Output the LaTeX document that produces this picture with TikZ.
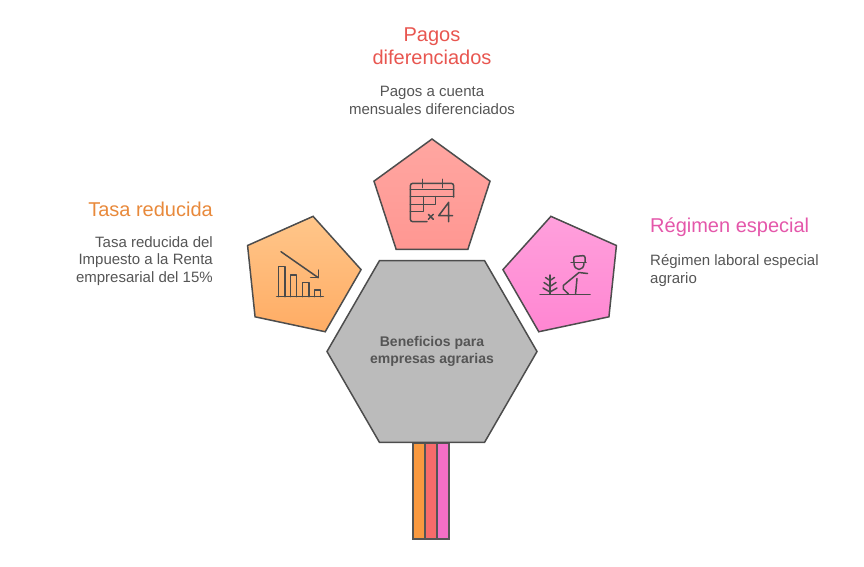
\documentclass[tikz,border=0pt]{standalone}
\usepackage{fontspec}
\setmainfont{Liberation Sans}
\usetikzlibrary{shapes.geometric}
\definecolor{edge}{HTML}{4D4D4D}
\definecolor{icon}{HTML}{4A4A4A}
\definecolor{desc}{HTML}{555555}
\definecolor{torange}{HTML}{E8893B}
\definecolor{tred}{HTML}{E85650}
\definecolor{tpink}{HTML}{E457AA}
\definecolor{orangeA}{HTML}{FFC68A}
\definecolor{orangeB}{HTML}{FFAC64}
\definecolor{redA}{HTML}{FFA6A1}
\definecolor{redB}{HTML}{FF9792}
\definecolor{pinkA}{HTML}{FFA0DC}
\definecolor{pinkB}{HTML}{FF86D2}
\definecolor{hexfill}{HTML}{BBBBBB}
\definecolor{barO}{HTML}{F9993F}
\definecolor{barR}{HTML}{F76B6B}
\definecolor{barP}{HTML}{F46FC6}
\begin{document}
\begin{tikzpicture}[x=1pt,y=-1pt,
  pent/.style={regular polygon, regular polygon sides=5, minimum size=122pt,
    inner sep=0pt, outer sep=0pt, draw=edge, line width=1.5pt},
  hexa/.style={regular polygon, regular polygon sides=6, minimum size=210pt,
    inner sep=0pt, outer sep=0pt, draw=edge, line width=1.5pt, fill=hexfill},
  barbox/.style={rectangle, minimum width=12pt, minimum height=96pt,
    inner sep=0pt, outer sep=0pt, draw=desc, line width=2pt},
  ic/.style={draw=icon, line width=1.5pt, line cap=round, line join=round},
  ttl/.style={font=\fontsize{20}{23.3}\selectfont, inner sep=0pt},
  dsc/.style={font=\fontsize{15}{17.8}\selectfont, text=desc, inner sep=0pt},
]
\useasboundingbox (0,0) rectangle (864,566);

% bars under hexagon
\node[barbox, fill=barO] (barA) at (419.3,490.7) {};
\node[barbox, fill=barR] (barB) at (431.3,490.7) {};
\node[barbox, fill=barP] (barC) at (443.3,490.7) {};

% pentagons
\node[pent, top color=redA, bottom color=redB] (ptop) at (432,200) {};
\node[pent, shape border rotate=60, top color=orangeA, bottom color=orangeB] (pleft) at (300.4,276) {};
\node[pent, shape border rotate=-60, top color=pinkA, bottom color=pinkB] (pright) at (563.6,276) {};

% hexagon
\node[hexa, align=center, font=\fontsize{14}{17.5}\selectfont\bfseries, text=desc] (hex) at (432,351.5) {Beneficios para\\empresas agrarias};

% titles and descriptions
\node[ttl, text=tred, align=center] (ttop) at (432,46.5) {Pagos\\diferenciados};
\node[dsc, align=center] (dtop) at (432,100.8) {Pagos a cuenta\\mensuales diferenciados};
\node[ttl, text=torange, anchor=base east] (tleft) at (213,216) {Tasa reducida};
\node[dsc, align=right, anchor=east] (dleft) at (213,261) {Tasa reducida del\\Impuesto a la Renta\\empresarial del 15\%};
\node[ttl, text=tpink, anchor=base west] (tright) at (650,232.7) {Régimen especial};
\node[dsc, align=left, anchor=west] (dright) at (650,270.2) {Régimen laboral especial\\agrario};

% chart icon (left)
\draw[ic] (276.7,296.7) -- (323.3,296.7);
\draw[ic] (278.5,296.7) -- (278.5,266.7) -- (285,266.7) -- (285,296.7);
\draw[ic] (290.7,296.7) -- (290.7,275) -- (296.7,275) -- (296.7,296.7);
\draw[ic] (302.7,296.7) -- (302.7,282.7) -- (309,282.7) -- (309,296.7);
\draw[ic] (314.3,296.7) -- (314.3,290) -- (320.7,290) -- (320.7,296.7);
\draw[ic] (281,251.7) -- (318.3,277.7);
\draw[ic] (310.7,277.7) -- (318.3,277.7) -- (318.3,270);

% calendar x4 icon (top)
\draw[ic, rounded corners=2.5pt] (427,221.7) -- (410.3,221.7) -- (410.3,183.3) -- (453.7,183.3) -- (453.7,197);
\draw[ic] (422.7,179.3) -- (422.7,187.5);
\draw[ic] (442.7,179.3) -- (442.7,187.5);
\draw[ic] (410.3,189.5) -- (453.7,189.5);
\draw[ic] (410.3,196.7) -- (453.7,196.7);
\draw[ic] (410.3,204.3) -- (435.3,204.3) -- (435.3,196.7);
\draw[ic] (423.7,196.7) -- (423.7,211.7) -- (410.3,211.7);
\draw[ic] (428.3,214.3) -- (433.3,219.3);
\draw[ic] (433.3,214.3) -- (428.3,219.3);
\draw[ic] (448.7,221.7) -- (448.7,202.3) -- (438.7,215.7) -- (452.7,215.7);

% farmer icon (right)
\draw[ic] (540,294.3) -- (590,294.3);
\draw[ic] (550,275) -- (550,294.3);
\draw[ic] (545.5,277.5) -- (550,280.5) -- (554.5,277.5);
\draw[ic] (544,282.5) -- (550,286.5) -- (556,282.5);
\draw[ic] (543,288) -- (550,292) -- (557,288);
\draw[ic, rounded corners=2pt] (574,262.5) -- (573.5,256.5) -- (585,255.5) -- (585,262.5);
\draw[ic] (571,262.7) -- (586,262.7);
\draw[ic] (574,263.5) arc[start angle=180, end angle=360, x radius=5, y radius=-6];
\draw[ic] (587.5,273.5) -- (579,272.5) -- (563.3,285.5) -- (563.3,289) -- (568.3,293.8);
\draw[ic] (577,278.5) -- (575.5,294.3);
\end{tikzpicture}
\end{document}
